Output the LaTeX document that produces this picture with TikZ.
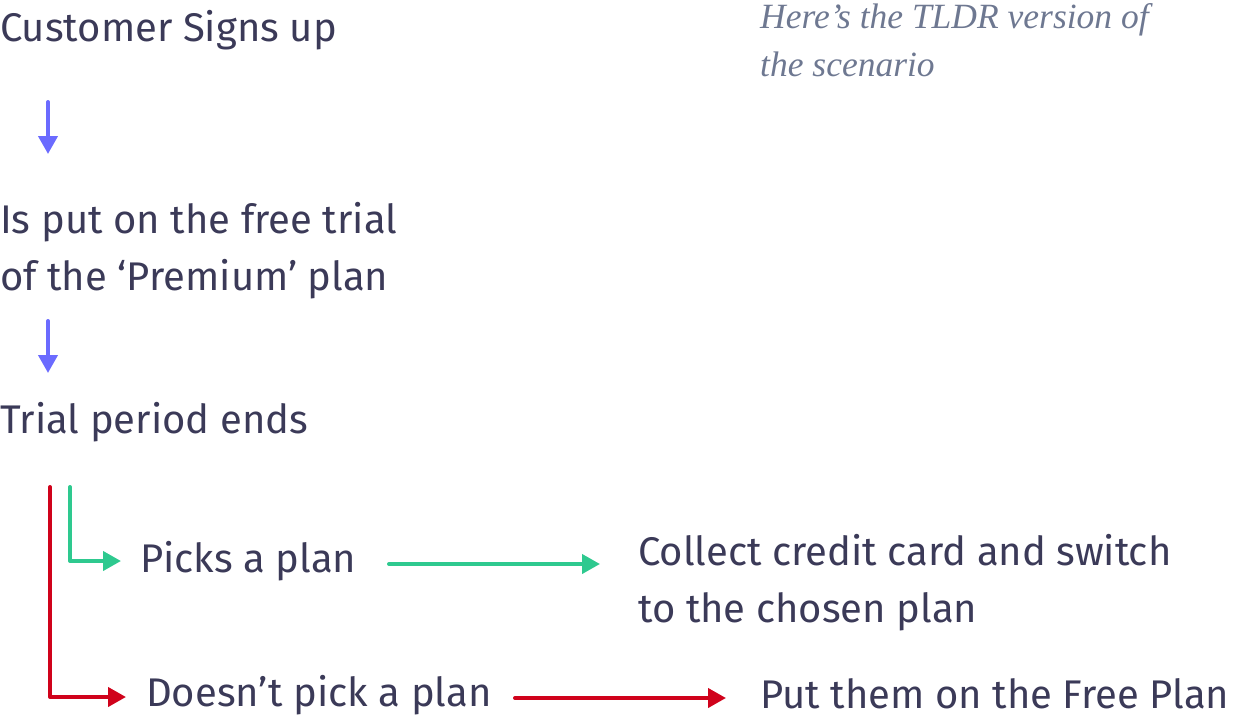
\documentclass[tikz,border=0pt]{standalone}
\usepackage{fontspec}
\setmainfont{Fira Sans}
\newfontfamily\notefont{Liberation Serif}
\usetikzlibrary{arrows.meta}
\definecolor{txt}{HTML}{3B3A58}
\definecolor{note}{HTML}{6E7891}
\definecolor{blu}{HTML}{6B6BFF}
\definecolor{grn}{HTML}{2EC98F}
\definecolor{rd}{HTML}{D0021B}
\tikzset{
  lbl/.style={anchor=base west, inner sep=0pt, text=txt, font=\fontsize{40}{40}\selectfont},
  notetext/.style={anchor=base west, inner sep=0pt, text=note, font=\notefont\itshape\fontsize{35.5}{35.5}\selectfont},
  conn/.style={line width=4pt, line cap=round, line join=round, -{Triangle[width=19pt,length=18pt]}},
}
\begin{document}
\begin{tikzpicture}[x=1pt,y=-1pt]
\path[use as bounding box] (0,0) rectangle (1240,718);
\node[lbl] (cust) at (0,41) {Customer Signs up};
\node[lbl] (trial1) at (0,233) {Is put on the free trial};
\node[lbl] (trial2) at (0,290) {of the ‘Premium’ plan};
\node[lbl] (ends) at (0,433) {Trial period ends};
\node[lbl] (picks) at (140,572) {Picks a plan};
\node[lbl] (collect1) at (638,565) {Collect credit card and switch};
\node[lbl] (collect2) at (638,622) {to the chosen plan};
\node[lbl] (nopick) at (146,706) {Doesn’t pick a plan};
\node[lbl] (free) at (760,708) {Put them on the Free Plan};
\node[notetext] (note1) at (760,28) {Here’s the TLDR version of};
\node[notetext] (note2) at (760,76) {the scenario};
% connector ends
\coordinate (a1s) at (48,102);
\coordinate (a1e) at (48,154);
\coordinate (a2s) at (48,321);
\coordinate (a2e) at (48,373);
\coordinate (gs) at (70,487);
\coordinate (rs) at (50,487);
\coordinate (gtip) at (121,561);
\coordinate (rtip) at (126,697);
\coordinate (g2s) at (389,564);
\coordinate (g2e) at (600,564);
\coordinate (r2s) at (515,698);
\coordinate (r2e) at (726,698);
\draw[conn, blu] (a1s) -- (a1e);
\draw[conn, blu] (a2s) -- (a2e);
\draw[conn, grn] (gs) |- (gtip);
\draw[conn, rd] (rs) |- (rtip);
\draw[conn, grn] (g2s) -- (g2e);
\draw[conn, rd] (r2s) -- (r2e);
\end{tikzpicture}
\end{document}
